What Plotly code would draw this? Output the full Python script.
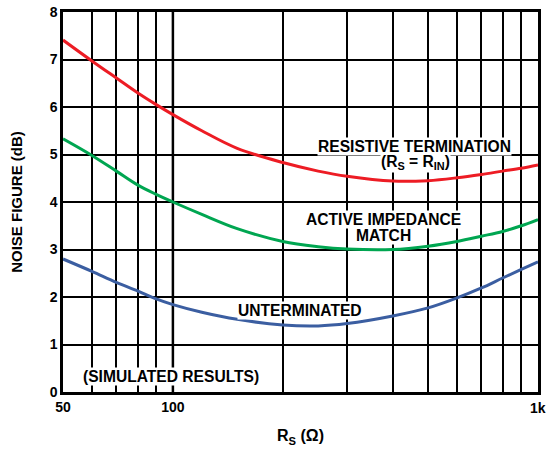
import math
import plotly.graph_objects as go

# source resistance (ohms) and noise figure (dB)
rs = [50, 60, 70, 80, 90, 100, 120, 150, 200, 250, 300, 400, 500, 600, 700, 800, 900, 1000]
nf_resistive = [7.41, 6.97, 6.61, 6.30, 6.05, 5.84, 5.50, 5.13, 4.83, 4.65, 4.54, 4.44, 4.45, 4.51, 4.58, 4.65, 4.71, 4.78]
nf_active = [5.33, 4.98, 4.65, 4.36, 4.16, 4.00, 3.74, 3.44, 3.17, 3.06, 3.01, 3.00, 3.07, 3.17, 3.28, 3.38, 3.50, 3.63]
nf_unterminated = [2.80, 2.54, 2.31, 2.13, 1.96, 1.84, 1.68, 1.53, 1.41, 1.39, 1.44, 1.60, 1.77, 1.98, 2.19, 2.40, 2.58, 2.74]

grid_x = [50, 60, 70, 80, 90, 100, 200, 300, 400, 500, 600, 700, 800, 900, 1000]
x_labels = {50: "50", 100: "100"}

FONT = "Liberation Sans, Arial, sans-serif"

fig = go.Figure()
series = [
    (nf_resistive, "#ed1c24"),
    (nf_active, "#00a651"),
    (nf_unterminated, "#3b5ea1"),
]
for values, color in series:
    fig.add_trace(go.Scatter(
        x=rs, y=values, mode="lines", line=dict(color=color, width=3, shape="spline", smoothing=1.0),
        showlegend=False, hoverinfo="skip",
    ))

# heavier decade line at 100
fig.add_shape(type="line", xref="x", yref="y", x0=100, x1=100, y0=0, y1=8,
              line=dict(color="black", width=2.5), layer="below")

label_font = dict(family=FONT, size=15.6, color="black", weight="bold")
notes = [
    (459, 5.17, "RESISTIVE TERMINATION"),
    (461, 4.83, "(R<sub>S</sub> = R<sub>IN</sub>)"),
    (377, 3.63, "ACTIVE IMPEDANCE"),
    (377, 3.30, "MATCH"),
    (223, 1.71, "UNTERMINATED"),
    (99, 0.32, "(SIMULATED RESULTS)"),
]
for x, y, text in notes:
    # annotation x on a log axis is given in log10 units
    fig.add_annotation(x=math.log10(x), y=y, xref="x", yref="y", text=text, showarrow=False,
                       font=label_font, bgcolor="white", borderpad=0)

# "1k" label sits at the right edge of the page
fig.add_annotation(x=1.0, y=0, xref="paper", yref="paper", text="1k", showarrow=False,
                   xanchor="center", yanchor="top", xshift=0, yshift=-6,
                   font=dict(family=FONT, size=14, color="black", weight="bold"))

tick_font = dict(family=FONT, size=14, color="black", weight="bold")
fig.update_xaxes(
    type="log", range=[math.log10(50), 3.0],
    tickvals=grid_x, ticktext=[x_labels.get(v, "") for v in grid_x],
    showgrid=True, gridcolor="black", gridwidth=1.5,
    showline=True, linecolor="black", linewidth=2.5, mirror=True,
    ticks="", tickfont=tick_font, automargin=False,
    title=dict(text="R<sub>S</sub> (Ω)", font=dict(family=FONT, size=16, color="black", weight="bold"), standoff=17),
    zeroline=False,
)
fig.update_yaxes(
    range=[0, 8], dtick=1,
    showgrid=True, gridcolor="black", gridwidth=1.5,
    showline=True, linecolor="black", linewidth=2.5, mirror=True,
    ticks="", tickfont=tick_font, automargin=False,
    title=dict(text="NOISE FIGURE (dB)", font=dict(family=FONT, size=15, color="black", weight="bold"), standoff=24),
    zeroline=False,
)
fig.update_layout(
    width=547, height=451,
    margin=dict(l=63, r=9, t=12, b=59),
    plot_bgcolor="white", paper_bgcolor="white",
)

# drop the browser's default body margin so the figure fills the window exactly
fig.write_html("out.html", config={"displayModeBar": False},
               post_script="document.body.style.margin='0px';")
